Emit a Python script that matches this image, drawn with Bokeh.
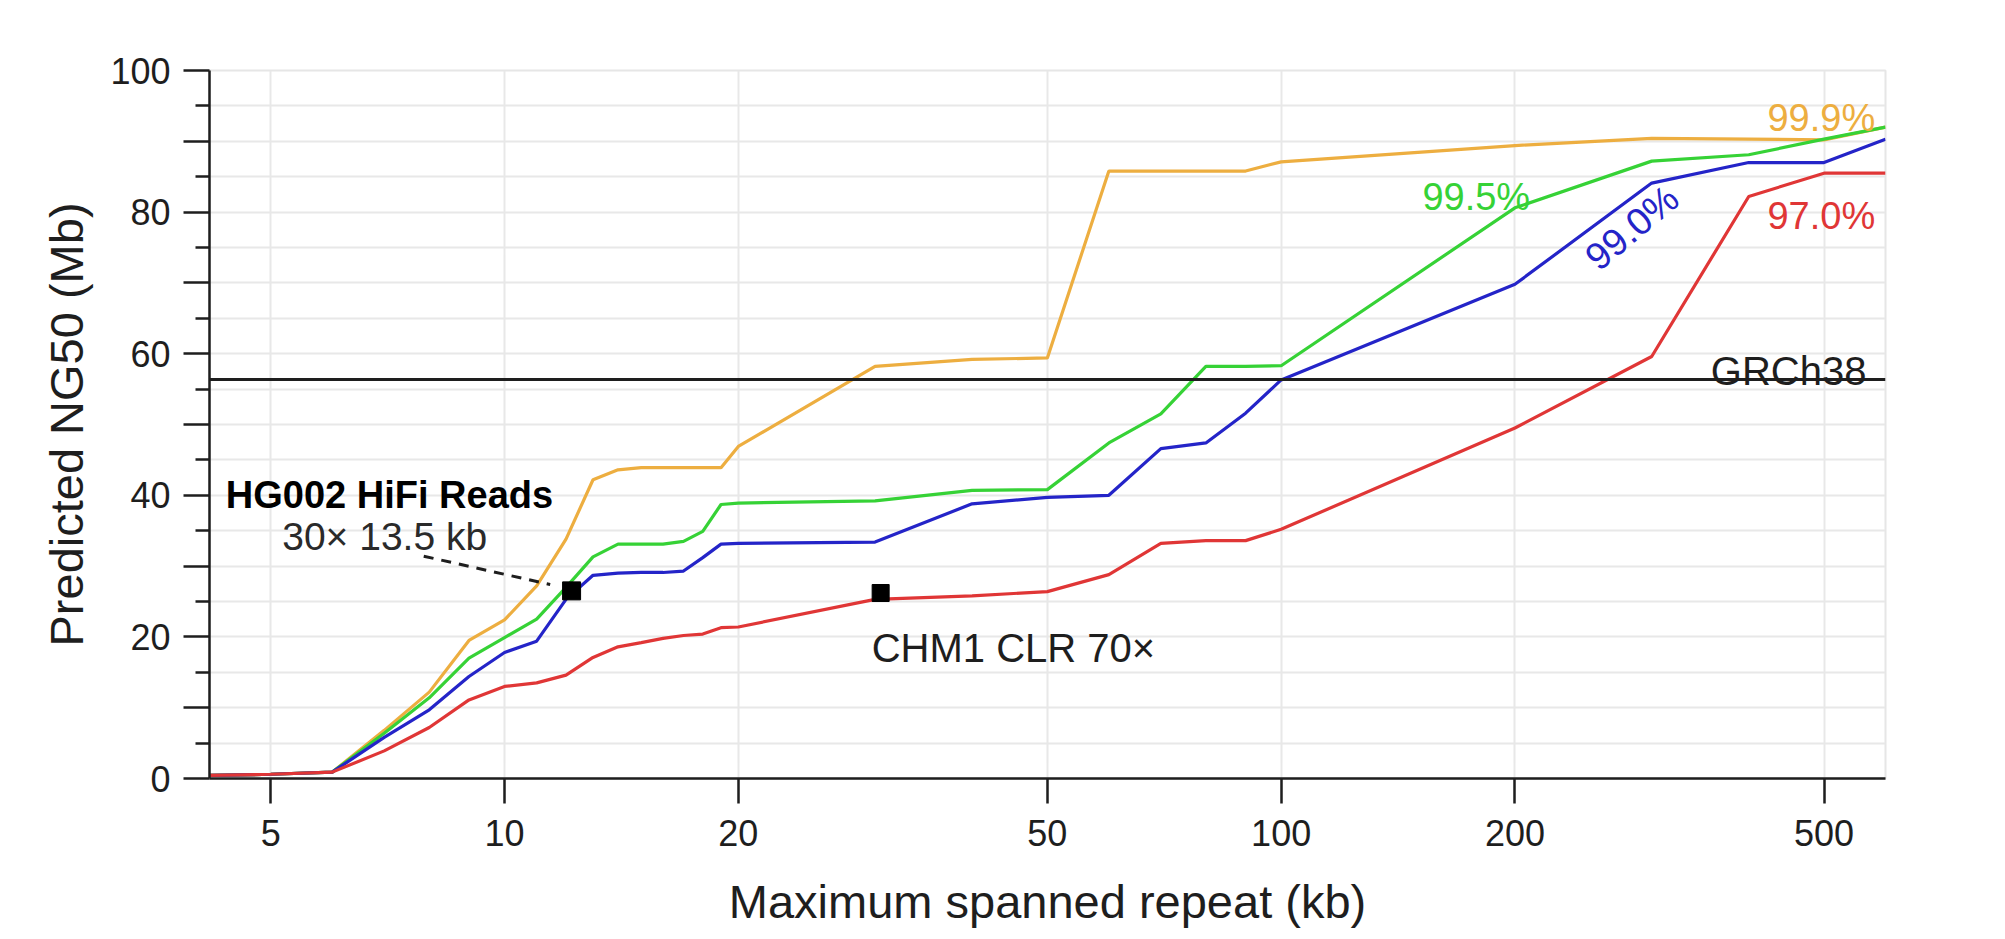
from bokeh.plotting import figure
from bokeh.models import FixedTicker, NumeralTickFormatter, Span, Label, Range1d
from bokeh.embed import file_html
from bokeh.resources import INLINE

# ---------------- data ----------------
repeat_kb = [4, 5, 6, 7, 8, 9, 10, 11, 12, 13, 14, 15, 16, 17, 18, 19, 20,
             30, 40, 50, 60, 70, 80, 90, 100, 200, 300, 400, 500, 600]

ng50_999 = [0.4, 0.6, 0.9, 6.8, 12.2, 19.5, 22.4, 27.2, 33.8, 42.2, 43.6, 43.9, 43.9, 43.9, 43.9, 43.9, 46.9,
            58.2, 59.2, 59.4, 85.8, 85.8, 85.8, 85.8, 87.1, 89.4, 90.4, 90.3, 90.2, 92.0]
ng50_995 = [0.4, 0.6, 0.9, 6.4, 11.4, 17.0, 19.9, 22.5, 27.0, 31.3, 33.1, 33.1, 33.1, 33.5, 34.9, 38.7, 38.9,
            39.2, 40.7, 40.8, 47.4, 51.5, 58.2, 58.2, 58.3, 80.6, 87.2, 88.1, 90.3, 92.0]
ng50_990 = [0.4, 0.6, 0.9, 5.8, 9.7, 14.4, 17.8, 19.4, 25.3, 28.7, 29.0, 29.1, 29.1, 29.3, 31.2, 33.1, 33.2,
            33.4, 38.8, 39.7, 40.0, 46.6, 47.4, 51.6, 56.3, 69.8, 84.1, 87.0, 87.0, 90.3]
ng50_970 = [0.4, 0.6, 0.9, 3.9, 7.2, 11.1, 13.0, 13.5, 14.6, 17.1, 18.6, 19.2, 19.8, 20.2, 20.4, 21.3, 21.4,
            25.3, 25.8, 26.4, 28.8, 33.2, 33.6, 33.6, 35.2, 49.5, 59.6, 82.2, 85.5, 85.5]

series_labels = ["99.9%", "99.5%", "99.0%", "97.0%"]
grch38_ng50 = 56.35

hg002_point = (12.2, 26.5)
chm1_point = (30.5, 26.2)
leader_x = [7.87, 11.45]
leader_y = [31.4, 27.4]

x_ticks = [5, 10, 20, 50, 100, 200, 500]
y_major = list(range(0, 101, 10))
y_minor = list(range(5, 100, 10))
y_grid = list(range(0, 101, 5))

# ---------------- styling ----------------
FONT = "Liberation Sans"
C_999 = "#EDAE40"
C_995 = "#36D236"
C_990 = "#2424C8"
C_970 = "#E03636"
DARK = "#1e1e1e"

p = figure(width=2005, height=939, x_axis_type="log",
           x_range=Range1d(4.17, 600), y_range=Range1d(0, 100),
           output_backend="svg", toolbar_location=None,
           min_border_left=209, min_border_right=120,
           min_border_top=70, min_border_bottom=161)
p.background_fill_color = "white"
p.border_fill_color = "white"
p.outline_line_color = "#E6E6E6"
p.outline_line_width = 2

# axes
p.xaxis.ticker = FixedTicker(ticks=x_ticks)
p.xaxis.formatter = NumeralTickFormatter(format="0")
p.yaxis.ticker = FixedTicker(ticks=y_major, minor_ticks=y_minor)
p.yaxis.major_label_overrides = {10: "", 30: "", 50: "", 70: "", 90: ""}

for ax in (p.xaxis[0], p.yaxis[0]):
    ax.axis_line_color = DARK
    ax.axis_line_width = 2.5
    ax.major_tick_line_color = DARK
    ax.major_tick_line_width = 2.5
    ax.minor_tick_line_color = DARK
    ax.minor_tick_line_width = 2.5
    ax.major_tick_in = 0
    ax.minor_tick_in = 0
    ax.major_label_text_font = FONT
    ax.major_label_text_font_size = "36px"
    ax.major_label_text_color = DARK
    ax.axis_label_text_font = FONT
    ax.axis_label_text_font_size = "47px"
    ax.axis_label_text_font_style = "normal"
    ax.axis_label_text_color = DARK

p.xaxis.major_tick_out = 25
p.xaxis.minor_tick_out = 0
p.xaxis.major_label_standoff = 16
p.xaxis.axis_label = "Maximum spanned repeat (kb)"
p.xaxis.axis_label_standoff = 26

p.yaxis.major_tick_out = 26
p.yaxis.minor_tick_out = 14
p.yaxis.major_label_standoff = 13
p.yaxis.axis_label = "Predicted NG50 (Mb)"
p.yaxis.axis_label_standoff = 14

# grids
p.xgrid.ticker = FixedTicker(ticks=x_ticks)
p.ygrid.ticker = FixedTicker(ticks=y_grid)
p.xgrid.grid_line_color = "#E8E8E8"
p.ygrid.grid_line_color = "#E8E8E8"
p.xgrid.grid_line_width = 2
p.ygrid.grid_line_width = 2

# curves
for ys, col in [(ng50_999, C_999), (ng50_995, C_995), (ng50_990, C_990), (ng50_970, C_970)]:
    p.line(repeat_kb, ys, line_color=col, line_width=3.2)

# GRCh38 reference line
p.add_layout(Span(location=grch38_ng50, dimension="width", line_color=DARK, line_width=3))

# HG002 leader line and markers
p.line(leader_x, leader_y, line_color=DARK, line_width=3, line_dash="10 8")
p.scatter([hg002_point[0]], [hg002_point[1]], marker="square", size=18, color="black")
p.scatter([chm1_point[0]], [chm1_point[1]], marker="square", size=17, color="black")

# text annotations
def add_label(x, y, text, size, color, align="left", baseline="alphabetic", angle=0, style="normal"):
    p.add_layout(Label(x=x, y=y, text=text, text_font=FONT, text_font_size=size,
                       text_color=color, text_align=align, text_baseline=baseline,
                       angle=angle, angle_units="deg", text_font_style=style))

add_label(582, 93.3, series_labels[0], "38px", C_999, align="right")
add_label(152, 82.1, series_labels[1], "38px", C_995, align="left")
add_label(283, 77.8, series_labels[2], "38px", C_990, align="center", baseline="middle", angle=40)
add_label(582, 79.4, series_labels[3], "38px", C_970, align="right")
add_label(567, 57.5, "GRCh38", "40px", DARK, align="right")
add_label(7.11, 40.1, "HG002 HiFi Reads", "38px", "black", align="center", style="bold")
add_label(7.01, 34.2, "30× 13.5 kb", "39px", "#2a2a2a", align="center")
add_label(29.7, 18.5, "CHM1 CLR 70×", "40px", DARK, align="left")

open("out.html", "w").write(file_html(p, INLINE))
